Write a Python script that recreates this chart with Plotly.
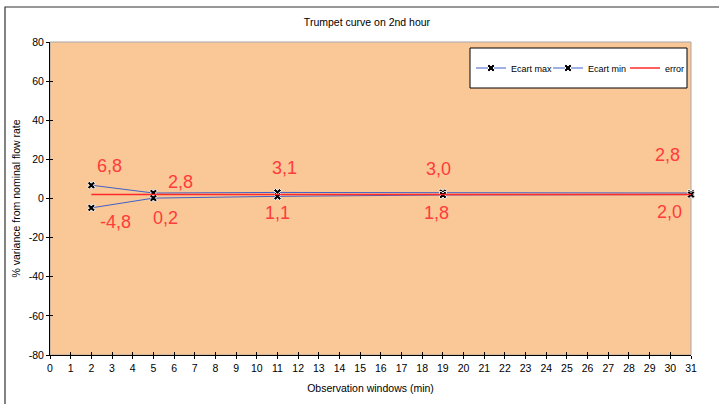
import plotly.graph_objects as go

# Observation windows (min) and variance values (%)
windows = [2, 5, 11, 19, 31]
ecart_max = [6.8, 2.8, 3.1, 3.0, 2.8]
ecart_min = [-4.8, 0.2, 1.1, 1.8, 2.0]
error_value = 2.0

y_ticks = [-80, -60, -40, -20, 0, 20, 40, 60, 80]
y_tick_text = [str(v) for v in y_ticks]
x_ticks = list(range(0, 32))

# Pixel offsets for the value labels (screen dx, dy)
max_label_offsets = [(18, -19), (27, -11), (7, -24), (-4, -24), (-24, -38)]
min_label_offsets = [(24, 14), (12, 20), (0, 17), (-6, 18), (-22, 17)]

W, H = 719, 404
L, R, T, B = 50, 28, 42, 49
PW, PH = W - L - R, H - T - B

BLUE = "#3F62C8"
RED = "#FF2A2A"
LABEL_RED = "#FF3B3B"
FONT = "Liberation Sans, Arial, sans-serif"


def px_x(p):
    return (p - L) / PW


def px_y(p):
    return (H - B - p) / PH


def fmt(v):
    return f"{v:.1f}".replace(".", ",")


marker = dict(symbol="x", size=7, color="black", line=dict(color="white", width=1))

fig = go.Figure()
fig.add_trace(go.Scatter(x=windows, y=ecart_max, name="Ecart max", mode="lines+markers",
                         line=dict(color=BLUE, width=1), marker=marker, cliponaxis=False))
fig.add_trace(go.Scatter(x=windows, y=ecart_min, name="Ecart min", mode="lines+markers",
                         line=dict(color=BLUE, width=1), marker=marker, cliponaxis=False))
fig.add_trace(go.Scatter(x=[windows[0], windows[-1]], y=[error_value, error_value], name="error",
                         mode="lines", line=dict(color=RED, width=1.5), cliponaxis=False))

annotations = []
for xs, ys, offs in ((windows, ecart_max, max_label_offsets), (windows, ecart_min, min_label_offsets)):
    for xv, yv, (dx, dy) in zip(xs, ys, offs):
        annotations.append(dict(x=xv, y=yv, xref="x", yref="y", text=fmt(yv), showarrow=False,
                                xshift=dx, yshift=-dy, xanchor="center", yanchor="middle",
                                font=dict(family=FONT, size=18, color=LABEL_RED)))

shapes = [
    # outer chart frame
    dict(type="rect", xref="paper", yref="paper", x0=px_x(5), x1=px_x(740), y0=px_y(425), y1=px_y(7),
         line=dict(color="#333333", width=1.2), fillcolor="rgba(0,0,0,0)", layer="below"),
    # plot area edge
    dict(type="rect", xref="paper", yref="paper", x0=0, x1=1, y0=0, y1=1,
         line=dict(color="#A8A8A8", width=1), fillcolor="rgba(0,0,0,0)", layer="below"),
    # legend box
    dict(type="rect", xref="paper", yref="paper", x0=px_x(470), x1=px_x(687), y0=px_y(88), y1=px_y(48),
         line=dict(color="black", width=1), fillcolor="white", layer="above"),
]

axis_font = dict(family=FONT, size=10.5, color="black")

fig.update_layout(
    width=W, height=H,
    margin=dict(l=L, r=R, t=T, b=B, autoexpand=False),
    paper_bgcolor="white",
    plot_bgcolor="#FAC796",
    title=dict(text="Trumpet curve on 2nd hour", x=367 / W, xanchor="center",
               y=1 - 22 / H, yanchor="middle", font=dict(family=FONT, size=10.5, color="black")),
    xaxis=dict(range=[0, 31], tickmode="array", tickvals=x_ticks, ticks="outside", ticklen=3,
               tickcolor="black", showline=True, linecolor="black", linewidth=1, showgrid=False,
               zeroline=False, tickfont=axis_font,
               title=dict(text="Observation windows (min)", font=axis_font, standoff=12)),
    yaxis=dict(range=[-80, 80], tickmode="array", tickvals=y_ticks, ticktext=y_tick_text,
               ticks="outside", ticklen=3,
               tickcolor="black", showline=True, linecolor="black", linewidth=1, showgrid=False,
               zeroline=False, tickfont=axis_font,
               title=dict(text="% variance from nominal flow rate", font=axis_font, standoff=6)),
    # inner halves of the crossing tick marks
    xaxis2=dict(overlaying="x", matches="x", range=[0, 31], tickmode="array", tickvals=x_ticks,
                ticks="inside", ticklen=3, tickcolor="black", showticklabels=False,
                showgrid=False, zeroline=False, showline=False),
    yaxis2=dict(overlaying="y", matches="y", range=[-80, 80], tickmode="array", tickvals=y_ticks,
                ticks="inside", ticklen=3, tickcolor="black", showticklabels=False,
                showgrid=False, zeroline=False, showline=False),
    showlegend=True,
    legend=dict(orientation="h", x=px_x(471), xanchor="left", y=px_y(68), yanchor="middle",
                bgcolor="rgba(0,0,0,0)", borderwidth=0, entrywidth=32, entrywidthmode="pixels",
                font=dict(family=FONT, size=9, color="black")),
    annotations=annotations,
    shapes=shapes,
)

# an empty trace so the overlay axes are drawn
fig.add_trace(go.Scatter(x=[], y=[], xaxis="x2", yaxis="y2", showlegend=False, hoverinfo="skip"))

fig.write_html("out.html")
